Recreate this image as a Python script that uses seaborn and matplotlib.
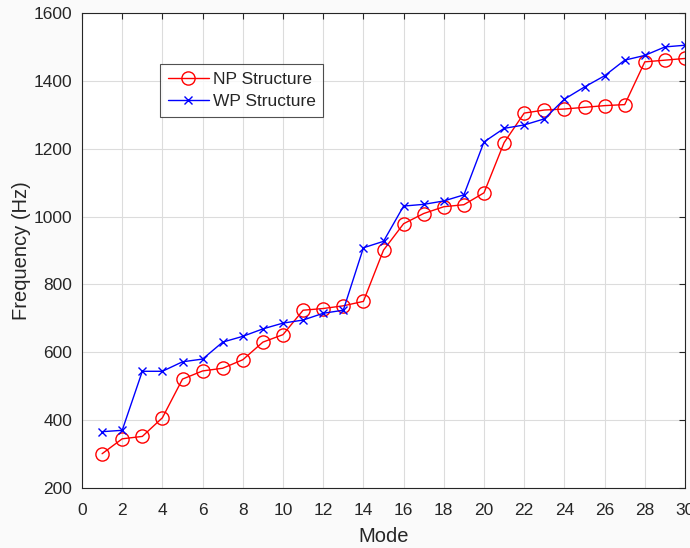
import matplotlib
matplotlib.use('Agg')
import matplotlib.pyplot as plt
import pandas as pd
import seaborn as sns

# Data
modes = list(range(1, 31))
np_structure = [301, 345, 352, 407, 521, 545, 553, 578, 630, 652,
                724, 729, 737, 750, 901, 979, 1009, 1029, 1035, 1070,
                1218, 1305, 1314, 1317, 1322, 1327, 1330, 1456, 1461, 1466]
wp_structure = [366, 370, 544, 544, 572, 580, 630, 647, 669, 686,
                695, 715, 724, 908, 927, 1031, 1036, 1046, 1064, 1220,
                1260, 1270, 1288, 1346, 1382, 1415, 1461, 1475, 1500, 1505]

df = pd.DataFrame({'Mode': modes, 'NP Structure': np_structure,
                   'WP Structure': wp_structure})

sns.set_style('white')
plt.rcParams['font.family'] = ['Liberation Sans', 'DejaVu Sans']

fig = plt.figure(figsize=(6.9, 5.48), dpi=100, facecolor='#fafafa')
ax = fig.add_axes([82 / 690, 60 / 548, 603 / 690, 475 / 548])
ax.set_facecolor('white')

sns.lineplot(data=df, x='Mode', y='NP Structure', ax=ax, color='red',
             marker='o', markersize=9.5, markerfacecolor='none',
             markeredgecolor='red', markeredgewidth=1.0, linewidth=1.0,
             label='NP Structure')
sns.lineplot(data=df, x='Mode', y='WP Structure', ax=ax, color='blue',
             marker='x', markersize=6, markeredgecolor='blue',
             markeredgewidth=1.0, linewidth=1.0, label='WP Structure')

ax.set_xlim(0, 30)
ax.set_ylim(200, 1600)
ax.set_xticks(range(0, 31, 2))
ax.set_yticks(range(200, 1601, 200))
ax.grid(True, color='#dcdcdc', linewidth=0.8)
ax.tick_params(direction='in', top=True, right=True, length=4,
               labelsize=12.5, color='#262626', labelcolor='#262626')
ax.tick_params(axis='x', pad=11)
ax.tick_params(axis='y', pad=7)
for s in ax.spines.values():
    s.set_color('#262626')
    s.set_linewidth(0.8)

ax.set_xlabel('Mode', fontsize=14.5, color='#262626', labelpad=6)
ax.set_ylabel('Frequency (Hz)', fontsize=14.5, color='#262626', labelpad=2)

leg = ax.legend(loc='upper left', bbox_to_anchor=(0.129, 0.893), fontsize=12.5,
                frameon=True, fancybox=False, edgecolor='#262626',
                borderpad=0.45, labelspacing=0.4, handlelength=2.4,
                handletextpad=0.2, borderaxespad=0)
leg.get_frame().set_linewidth(0.8)

fig.savefig('out.png', dpi=100, facecolor=fig.get_facecolor())
